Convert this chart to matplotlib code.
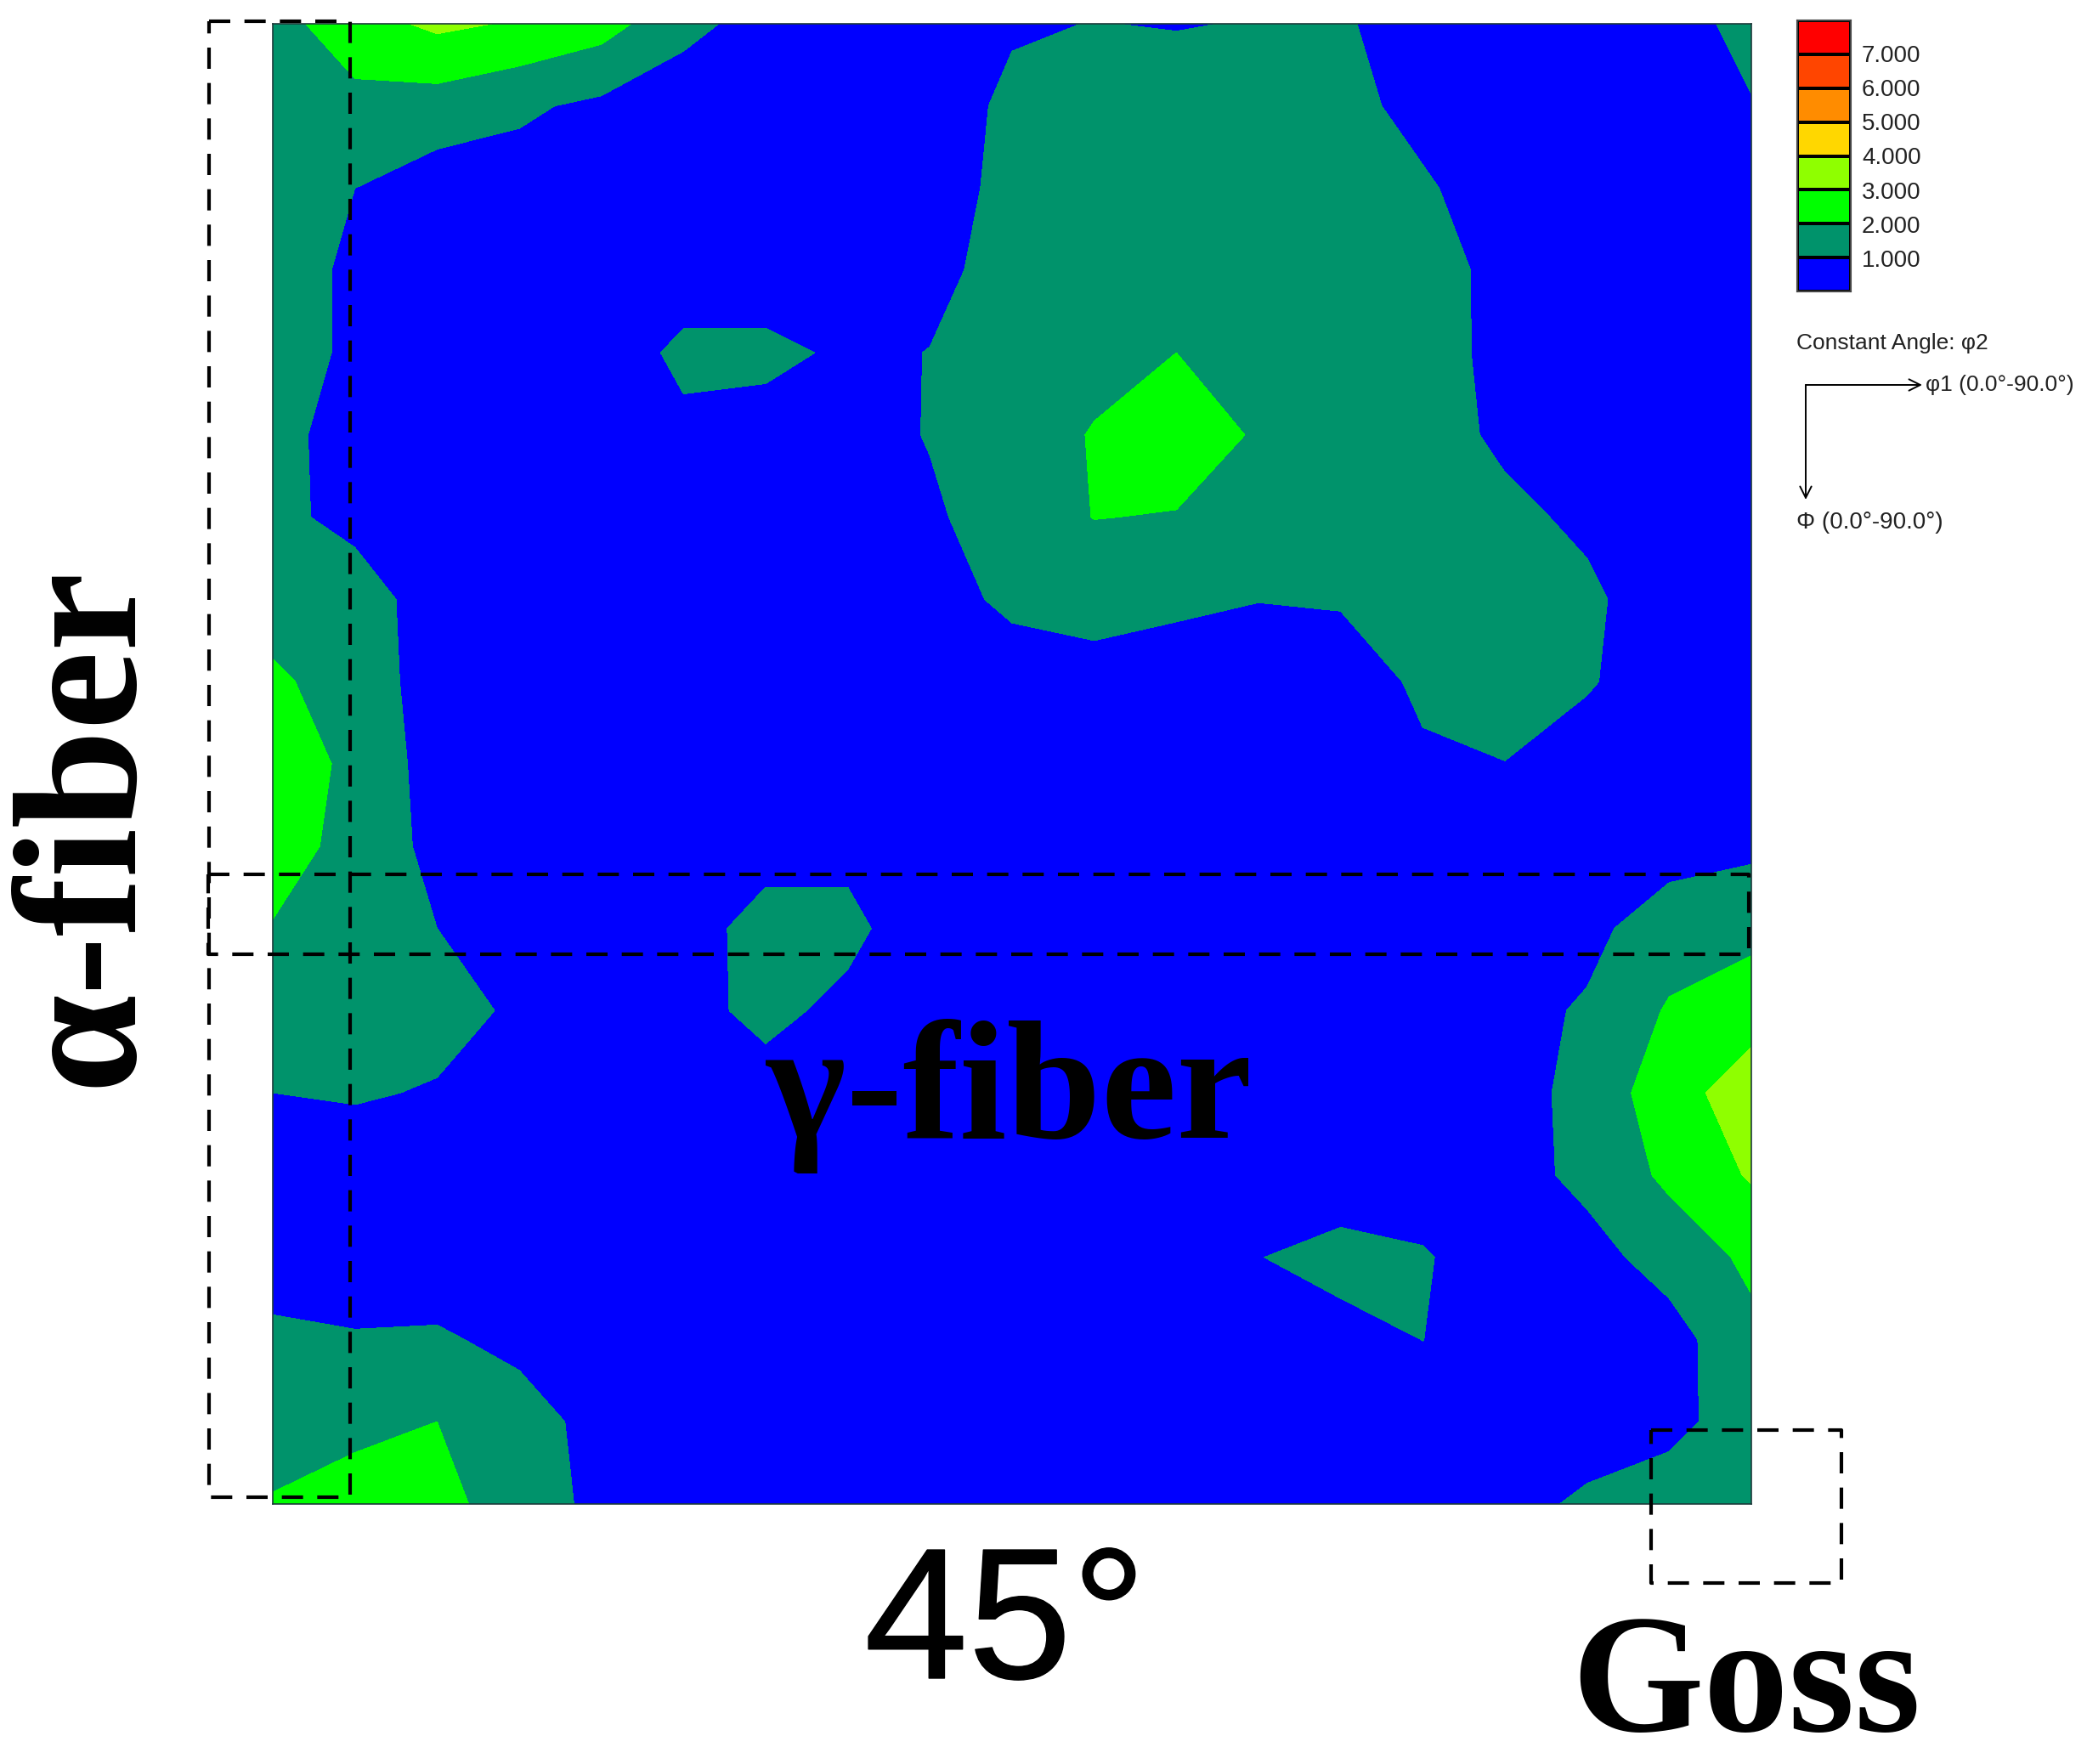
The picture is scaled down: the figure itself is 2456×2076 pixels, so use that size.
import numpy as np
import matplotlib
matplotlib.use('Agg')
import matplotlib.pyplot as plt
import matplotlib.patheffects as pe

W, H = 2456, 2076

# ODF section phi2 = 45 deg, 5 deg grid
phi1 = np.arange(0, 95, 5)
Phi = np.arange(0, 95, 5)
odf = np.array([
    [1.6, 2.6, 3.2, 2.9, 2.4, 1.3, .6, .5, .4, .9, 1.02, .95, 1.05, 1.1, .6, .4, .4, .6, 1.3],
    [1.5, 1.7, 1.55, 1.15, .8, .4, .4, .4, .5, 1.2, 1.4, 1.5, 1.5, 1.25, .75, .4, .4, .4, .95],
    [1.4, 1.0, .5, .6, .5, .4, .4, .5, .6, 1.25, 1.6, 1.65, 1.6, 1.4, 1.1, .6, .4, .4, .5],
    [1.5, .8, .5, .4, .4, .4, .3, .4, .75, 1.35, 1.7, 1.8, 1.75, 1.6, 1.35, .75, .5, .4, .4],
    [1.5, .8, .5, .4, .35, 1.25, 1.3, .8, 1.02, 1.5, 1.75, 2.0, 1.8, 1.6, 1.4, .72, .5, .4, .4],
    [1.3, .6, .5, .4, .5, .75, .5, .6, 1.05, 1.6, 2.05, 2.5, 1.9, 1.6, 1.45, .8, .5, .4, .4],
    [1.3, .65, .5, .4, .4, .4, .4, .5, .85, 1.5, 2.02, 1.95, 1.6, 1.5, 1.45, 1.24, .8, .4, .4],
    [1.6, 1.6, .4, .4, .4, .4, .4, .4, .6, 1.2, 1.3, 1.15, 1.02, 1.05, 1.4, 1.4, 1.2, .4, .4],
    [2.15, 1.6, .5, .4, .4, .4, .4, .4, .4, .5, .7, .6, .5, .7, 1.1, 1.5, 1.1, .4, .4],
    [2.5, 1.8, .55, .4, .4, .4, .4, .4, .4, .4, .4, .4, .4, .5, .92, .98, .5, .4, .5],
    [2.4, 1.7, .7, .4, .4, .5, .65, .8, .5, .4, .4, .4, .4, .4, .5, .5, .5, .6, .8],
    [1.95, 1.5, 1.0, .5, .4, .6, 1.35, 1.2, .5, .4, .4, .4, .4, .4, .4, .5, .75, 1.5, 1.7],
    [1.6, 1.5, 1.35, .85, .4, .75, 1.2, .8, .4, .4, .4, .4, .4, .4, .4, .7, 1.1, 2.1, 2.6],
    [1.0, 1.1, .92, .3, .3, .4, .7, .4, .3, .3, .3, .3, .3, .3, .4, .6, 1.3, 2.6, 3.5],
    [.4, .4, .4, .3, .3, .3, .3, .3, .3, .3, .3, .3, .3, .3, .4, .6, 1.25, 2.2, 3.1],
    [.3, .3, .3, .3, .3, .3, .3, .3, .3, .3, .3, .3, .97, 1.4, 1.1, .4, .65, 1.4, 2.2],
    [1.3, 1.1, 1.15, .7, .3, .3, .3, .3, .3, .3, .3, .3, .4, .6, 1.01, .3, .4, .6, 1.75],
    [1.4, 1.7, 2.0, 1.5, .6, .3, .3, .3, .3, .3, .3, .3, .3, .3, .4, .3, .4, .6, 1.7],
    [2.1, 2.5, 2.25, 1.6, .7, .3, .3, .3, .3, .3, .3, .3, .3, .3, .3, .6, 1.2, 1.7, 1.7],
])

levels = [0, 1, 2, 3, 4, 5, 6, 7, 8]
colors = ['#0000FF', '#00936B', '#00FF00', '#8FFF00',
          '#FFD700', '#FF8C00', '#FF4500', '#FF0000']
level_labels = ['1.000', '2.000', '3.000', '4.000', '5.000', '6.000', '7.000']


def axes_px(fig, x0, y0, x1, y1):
    # axes from pixel box, y measured from the top of the picture
    return fig.add_axes([x0 / W, 1 - y1 / H, (x1 - x0) / W, (y1 - y0) / H])


fig = plt.figure(figsize=(W / 100, H / 100), dpi=100, facecolor='white')

# main map
ax = axes_px(fig, 321, 28, 2061, 1770)
ax.contourf(phi1, Phi, odf, levels=levels, colors=colors)
ax.set_xlim(0, 90)
ax.set_ylim(90, 0)
ax.set_xticks([])
ax.set_yticks([])
for s in ax.spines.values():
    s.set_linewidth(1.2)
    s.set_color('#1c3a3a')

# colour key
cax = axes_px(fig, 2115, 24, 2178, 343)
cax.pcolormesh([0, 1], levels, np.arange(len(colors)).reshape(-1, 1),
               cmap=matplotlib.colors.ListedColormap(colors),
               edgecolors='black', linewidth=1.5)
cax.set_xticks([])
cax.set_yticks([])
for s in cax.spines.values():
    s.set_linewidth(1.5)
    s.set_color('#444444')

# overlay in picture pixels for the labels and dashed boxes
ov = fig.add_axes([0, 0, 1, 1])
ov.set_xlim(0, W)
ov.set_ylim(H, 0)
ov.axis('off')
ov.patch.set_alpha(0)

for lab, y in zip(level_labels, [307, 267, 227, 186, 146, 106, 66]):
    ov.text(2191, y, lab, fontsize=20, family='Liberation Sans', color='#222222',
            va='center', ha='left')

small = dict(family='Liberation Sans', color='#222222', va='center', ha='left')
ov.text(2114, 404, 'Constant Angle: φ2', fontsize=19, **small)
ov.text(2266, 453, 'φ1 (0.0°-90.0°)', fontsize=19, **small)
ov.text(2114, 615, 'Φ (0.0°-90.0°)', fontsize=20, **small)

arrow = dict(arrowstyle='->', color='black', lw=1.4, mutation_scale=24, shrinkA=0, shrinkB=0)
ov.annotate('', xy=(2262, 453), xytext=(2125, 453), arrowprops=arrow)
ov.annotate('', xy=(2125, 588), xytext=(2125, 453), arrowprops=arrow)

boxes = [(246, 25, 412, 1762), (245, 1029, 2058, 1123), (1943, 1683, 2167, 1863)]
for x0, y0, x1, y1 in boxes:
    ov.plot([x0, x1, x1, x0, x0], [y0, y0, y1, y1, y0], color='black', lw=3,
            linestyle=(0, (6, 4)))

serif = dict(family='Liberation Serif', fontweight='bold', color='black',
             ha='center', va='center')
ov.text(102, 972, 'α-fiber', fontsize=150, rotation=90, **serif)
ov.text(1188, 1290, 'γ-fiber', fontsize=144, **serif)
ov.text(2055, 1989, 'Goss', fontsize=144, **serif)
ov.text(1183, 1918, '45°', fontsize=158, family='Liberation Sans', color='black',
        ha='center', va='center',
        path_effects=[pe.withStroke(linewidth=1, foreground='black')])

fig.savefig('out.png', dpi=100)
